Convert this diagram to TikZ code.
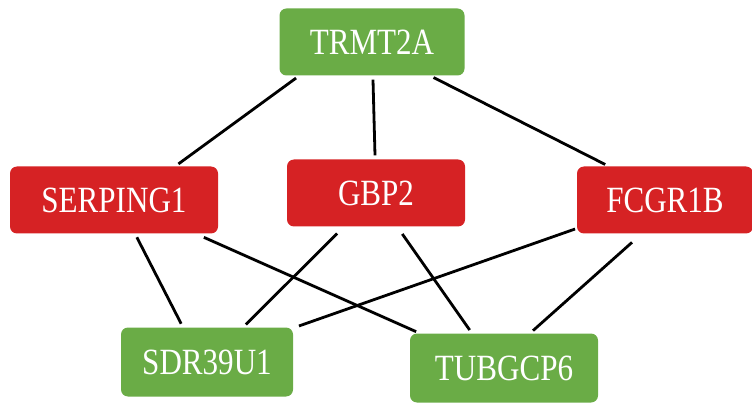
\documentclass[tikz,border=0pt]{standalone}
\usepackage{fontspec}
\setmainfont[FakeStretch=0.84]{Liberation Serif}
\usetikzlibrary{calc}
\definecolor{upgreen}{RGB}{106,172,70}
\definecolor{downred}{RGB}{214,34,36}
\tikzset{
    gene/.style={rounded corners=7pt, minimum height=67pt, text=white, font=\fontsize{37}{37}\selectfont, inner sep=0pt},
    up/.style={gene, fill=upgreen},
    down/.style={gene, fill=downred},
    link/.style={line width=2.8pt, shorten >=4pt, shorten <=4pt},
  }
\begin{document}
\begin{tikzpicture}[x=1pt,y=-1pt]
				  \useasboundingbox (0,0) rectangle (752,403);
				  
				   %GENES
				  \node[up, minimum width=185pt] (TRMT2A) at (372,42) {TRMT2A};
				  \node[down, minimum width=208pt] (SERPING1) at (114,200) {SERPING1};
				  \node[down, minimum width=178pt] (GBP2) at (376,193) {GBP2};
				  \node[down, minimum width=176pt] (FCGR1B) at (665,200) {FCGR1B};
				  \node[up, minimum width=172pt, minimum height=69pt] (SDR39U1) at (207,362) {SDR39U1};
				  \node[up, minimum width=188pt, minimum height=69pt] (TUBGCP6) at (504,368) {TUBGCP6};
				  
				  %LIENS
				  \draw[link] ($(TRMT2A.south west)+(20,0)$) -- ($(SERPING1.north east)+(-43,0)$);
				  \draw[link] (TRMT2A) -- (GBP2);
				  \draw[link] ($(TRMT2A.south)+(58,0)$) -- ($(FCGR1B.north west)+(32,0)$);
				  \draw[link] ($(SERPING1.south)+(21,0)$) -- ($(SDR39U1.north)+(-24,0)$);
				  \draw[link] ($(SERPING1.south east)+(-18,2)$) -- ($(TUBGCP6.north west)+(10,0)$);
				  \draw[link] ($(GBP2.south)+(-36,4)$) -- ($(SDR39U1.north)+(36,0)$);
				  \draw[link] ($(GBP2.south)+(24,4)$) -- ($(TUBGCP6.north)+(-32,0)$);
				  \draw[link] ($(FCGR1B.south west)+(2,-6)$) -- ($(SDR39U1.north east)+(2,0)$);
				  \draw[link] ($(FCGR1B.south)+(-30,6)$) -- ($(TUBGCP6.north)+(26,0)$);
\end{tikzpicture}
\end{document}
